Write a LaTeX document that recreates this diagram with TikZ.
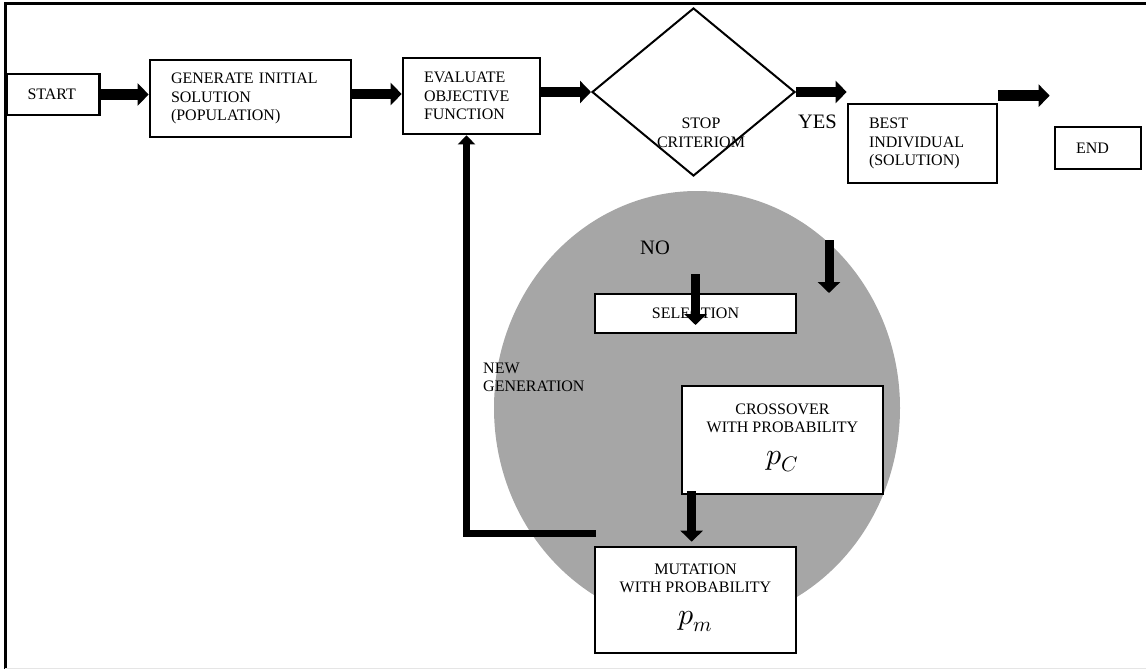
\documentclass[tikz,border=0pt]{standalone}
\usepackage{fontspec}
\setmainfont{Liberation Serif}
\usepackage{unicode-math}
\setmathfont{Latin Modern Math}
\usetikzlibrary{shapes.geometric,arrows.meta,calc}
\definecolor{disc}{RGB}{166,166,166}
\newcommand\mainfs{\fontsize{16}{18.5}\selectfont}
\newcommand\bigfs{\fontsize{20.5}{24}\selectfont}
\newcommand\mathfs{\fontsize{30}{36}\selectfont}
\begin{document}
\begin{tikzpicture}[x=1pt,y=-1pt,
  box/.style={draw=black, fill=white, line width=2.7pt, inner xsep=21pt, inner ysep=2pt, align=left, font=\mainfs},
  cbox/.style={box, align=center, inner xsep=4pt},
  fat/.style={line width=10.5pt, -{Triangle[length=11pt,width=22pt]}},
  feed/.style={line width=7pt, -{Triangle[length=9pt,width=17pt]}},
  lbl/.style={font=\mainfs, inner sep=0pt, align=left},
  biglbl/.style={font=\bigfs, inner sep=0pt}
]
\useasboundingbox (0,0) rectangle (1146,669);
% grey disc
\fill[disc] (697,408) ellipse [x radius=203pt, y radius=217pt];
% frame
\draw[line width=3pt] (5,669) -- (5,4) -- (1146,4);
\draw[gray!20, line width=1pt] (5,668) -- (1146,668);

% nodes
\node[box, minimum width=93pt, minimum height=41pt, text width=51pt] (start) at (53,94.5) {START};
\node[box, minimum width=201pt, minimum height=77pt, text width=159pt] (gen) at (250.5,98.5) {GENERATE INITIAL\\SOLUTION\\(POPULATION)};
\node[box, minimum width=137pt, minimum height=76pt, text width=95pt] (eval) at (471.5,96) {EVALUATE\\OBJECTIVE\\FUNCTION};
\node[draw, diamond, line width=2pt, minimum width=203pt, minimum height=168pt, inner sep=0pt] (stop) at (693.5,92) {};
\node[lbl, align=center] (stoptxt) at (701,133) {STOP\\CRITERIOM};
\node[biglbl] (yes) at (817.5,122) {YES};
\node[box, minimum width=149pt, minimum height=79pt, text width=107pt] (best) at (922.5,143.5) {BEST\\INDIVIDUAL\\(SOLUTION)};
\node[box, minimum width=86pt, minimum height=42pt, text width=44pt] (end) at (1098,148) {END};
\node[biglbl] (no) at (655,248) {NO};
\node[cbox, minimum width=201pt, minimum height=39pt] (sel) at (695.5,313.5) {SELECTION};
\node[lbl, anchor=west] (newgen) at (483,377.5) {NEW\\GENERATION};
\node[cbox, minimum width=201pt, minimum height=108pt] (cross) at (782.5,440) {CROSSOVER\\WITH PROBABILITY\\[13pt]{\mathfs$p_C$\rule[-12pt]{0pt}{1pt}}};
\node[cbox, minimum width=201pt, minimum height=106pt] (mut) at (695.5,600) {MUTATION\\WITH PROBABILITY\\[13pt]{\mathfs$p_m$\rule[-12pt]{0pt}{1pt}}};

% free ends
\coordinate (nb1) at (829,240);
\coordinate (nb2) at (829,293);
\coordinate (fb) at (596,533);

% connectors
\draw[fat] (start.east) -- (start.east -| gen.west);
\draw[fat] ($(eval.west -| gen.east)+(0,-2)$) -- ($(eval.west)+(0,-2)$);
\draw[fat] (stop.west -| eval.east) -- (stop.west);
\draw[fat] (stop.east) -- (stop.east -| best.west);
\draw[fat] ($(best.north east)+(0,-7)$) -- ($(best.north east -| end.west)+(-4,-7)$);
\draw[fat, line width=9pt] (nb1) -- (nb2);
\draw[fat, line width=9pt] ($(sel.center)+(0,-39.5)$) -- ($(sel.center)+(0,11.5)$);
\draw[fat, line width=9pt] ($(cross.south west)+(11,-4)$) -- ($(cross.south west |- mut.north)+(11,-4)$);
\draw[feed] (fb) -| ($(eval.south)+(-5,0)$);
\end{tikzpicture}
\end{document}
